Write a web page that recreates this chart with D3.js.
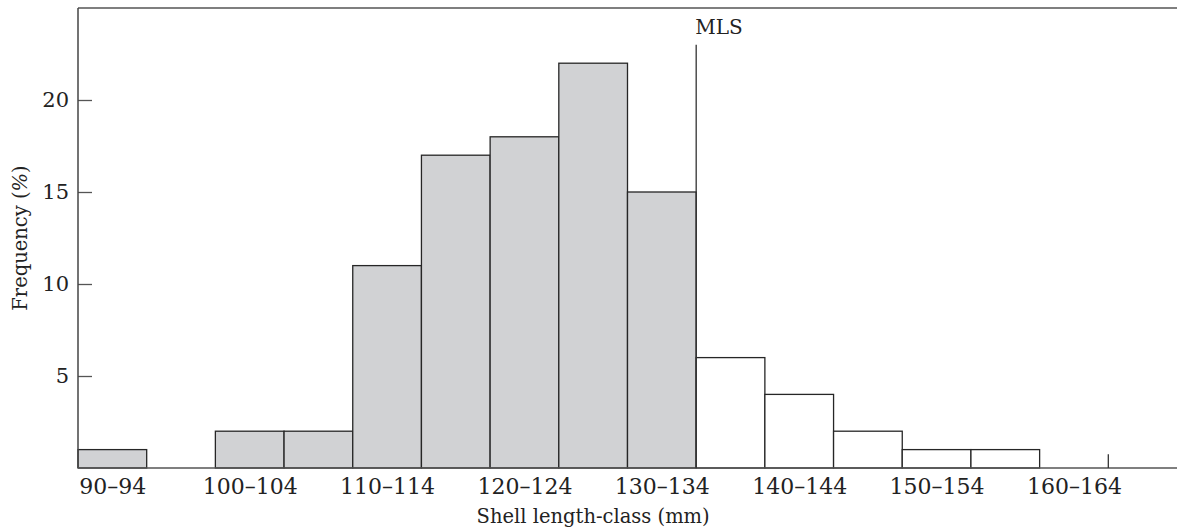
<!DOCTYPE html>
<html>
<head>
<meta charset="utf-8">
<script src="https://cdn.jsdelivr.net/npm/d3@7"></script>
<style>
  body { margin: 0; background: #fff; }
  text { font-family: "DejaVu Serif", "Liberation Serif", serif; fill: #222; }
</style>
</head>
<body>
<div id="chart-area"></div>
<script>
// data: length classes (5 mm bins) and frequency (%)
var classStarts = [90, 95, 100, 105, 110, 115, 120, 125, 130, 135, 140, 145, 150, 155, 160];
var frequency   = [1, 0, 2, 2, 11, 17, 18, 22, 15, 6, 4, 2, 1, 1, 0];
var labelledClasses = ["90–94", "100–104", "110–114", "120–124", "130–134", "140–144", "150–154", "160–164"];
var yTicks = [5, 10, 15, 20];
var mls = 135;        // minimum legal size
var mlsTop = 23;
var endMark = 165;    // small mark at the end of the last class

var margin = {left: 78, right: 0, top: 8, bottom: 62};
var width = 1177 - margin.left - margin.right;
var height = 530 - margin.top - margin.bottom;

var x = d3.scaleLinear().domain([90, 170]).range([0, width]);
var y = d3.scaleLinear().domain([0, 25]).range([height, 0]);

var svg = d3.select("#chart-area").append("svg")
    .attr("width", 1177)
    .attr("height", 530);

var g = svg.append("g")
    .attr("transform", "translate(" + margin.left + "," + margin.top + ")");

var data = classStarts.map(function(s, i){ return {start: s, value: frequency[i]}; });

// bars
g.selectAll("rect.bar")
    .data(data.filter(function(d){ return d.value > 0; }))
    .enter().append("rect")
    .attr("class", "bar")
    .attr("x", function(d){ return x(d.start); })
    .attr("y", function(d){ return y(d.value); })
    .attr("width", function(d){ return x(d.start + 5) - x(d.start); })
    .attr("height", function(d){ return y(0) - y(d.value); })
    .attr("fill", function(d){ return d.start < mls ? "#d1d2d4" : "#fff"; })
    .attr("stroke", "#262626")
    .attr("stroke-width", 1.3);

// frame: top line
g.append("line")
    .attr("x1", 0).attr("x2", width)
    .attr("y1", 0).attr("y2", 0)
    .attr("stroke", "#555").attr("stroke-width", 1.5);

// y axis (ticks inside)
var leftAxis = d3.axisLeft(y)
    .tickValues(yTicks)
    .tickSize(-14)
    .tickPadding(9);

var yAxis = g.append("g").attr("class", "y-axis").call(leftAxis);
yAxis.select(".domain").remove();
yAxis.selectAll(".tick line").attr("stroke", "#555").attr("stroke-width", 1.3);
yAxis.selectAll(".tick text").attr("font-size", "21px").attr("fill", "#222")
    .attr("font-family", "DejaVu Serif, serif");

g.append("line")
    .attr("x1", 0).attr("x2", 0)
    .attr("y1", 0).attr("y2", height)
    .attr("stroke", "#444").attr("stroke-width", 1.5);

// x axis baseline
g.append("line")
    .attr("x1", 0).attr("x2", width)
    .attr("y1", height).attr("y2", height)
    .attr("stroke", "#555").attr("stroke-width", 1.6);

// x class labels under every other bar
var bottomAxis = d3.axisBottom(x)
    .tickValues(labelledClasses.map(function(l){ return +l.split("–")[0] + 2.5; }))
    .tickSize(0)
    .tickPadding(10)
    .tickFormat(function(d, i){ return labelledClasses[i]; });

var xAxis = g.append("g").attr("class", "x-axis")
    .attr("transform", "translate(0," + height + ")")
    .call(bottomAxis);
xAxis.select(".domain").remove();
xAxis.selectAll(".tick text").attr("font-size", "22px").attr("fill", "#222")
    .attr("font-family", "DejaVu Serif, serif");

// small mark at the end of the last class
g.append("line")
    .attr("x1", x(endMark)).attr("x2", x(endMark))
    .attr("y1", height).attr("y2", y(0.75))
    .attr("stroke", "#333").attr("stroke-width", 1.3);

// MLS line and label
g.append("line")
    .attr("x1", x(mls)).attr("x2", x(mls))
    .attr("y1", y(mlsTop)).attr("y2", height)
    .attr("stroke", "#333").attr("stroke-width", 1.3);

g.append("text")
    .attr("x", x(mls) - 1)
    .attr("y", y(mlsTop) - 11)
    .attr("font-size", "20px")
    .text("MLS");

// axis labels
g.append("text")
    .attr("x", x(127.5))
    .attr("y", height + 55)
    .attr("text-anchor", "middle")
    .attr("font-size", "19.5px")
    .text("Shell length-class (mm)");

var yl = svg.append("text")
    .attr("transform", "translate(27," + (margin.top + 230) + ") rotate(-90)")
    .attr("text-anchor", "middle")
    .attr("font-size", "19.5px");
yl.append("tspan").text("Frequency (");
yl.append("tspan").attr("font-style", "italic").text("%");
yl.append("tspan").text(")");
</script>
</body>
</html>
